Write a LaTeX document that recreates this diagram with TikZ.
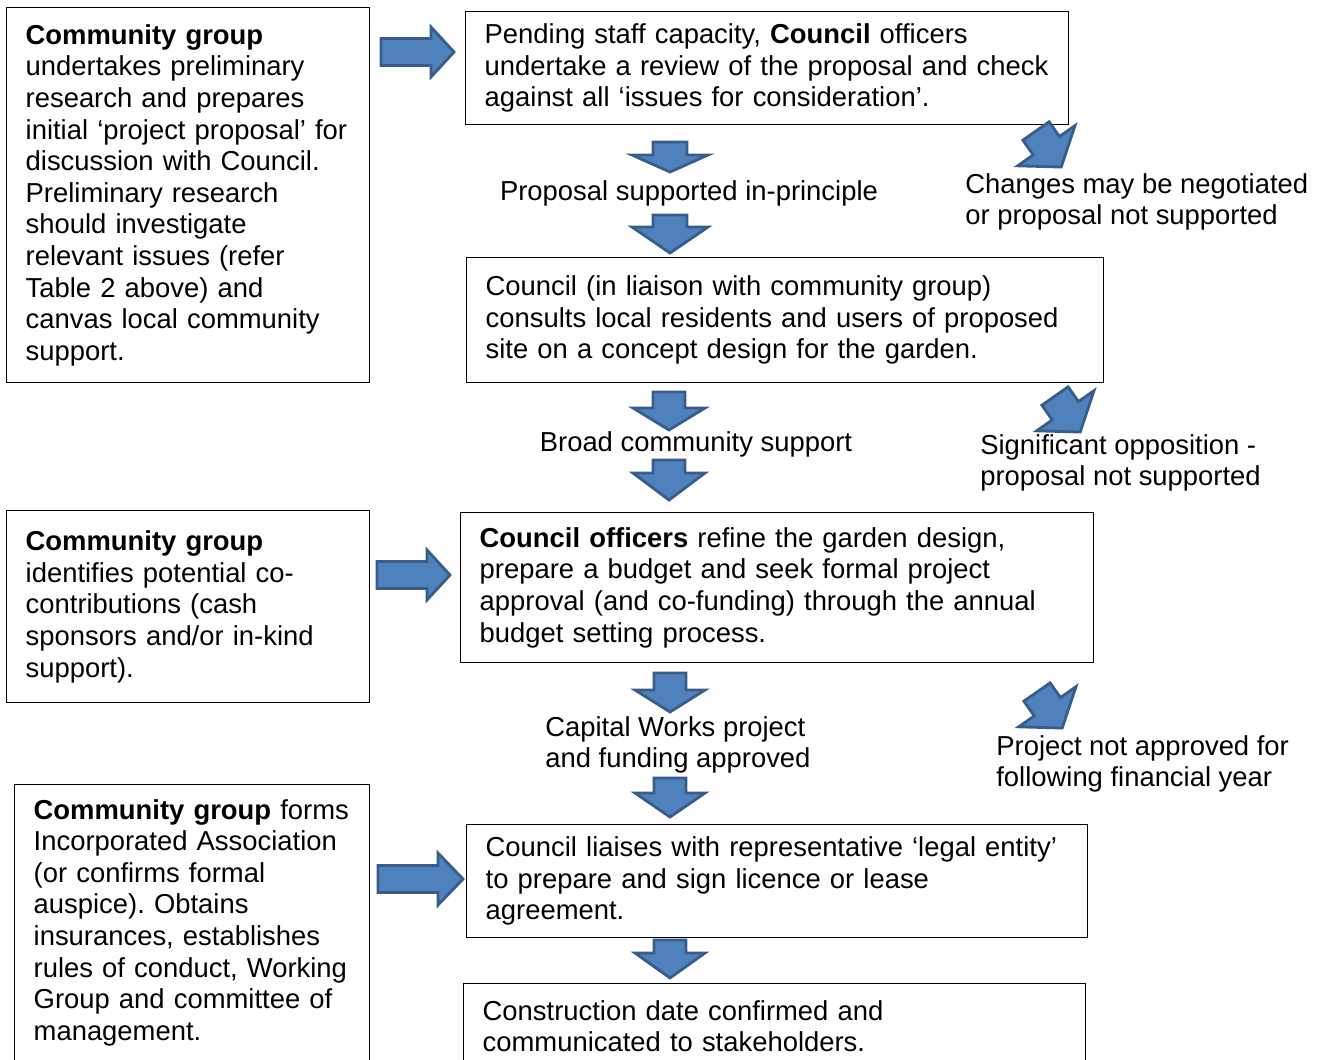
\documentclass[tikz,border=0pt]{standalone}
\usepackage{fontspec}
\setmainfont{Liberation Sans}
\frenchspacing
\definecolor{arrowblue}{HTML}{4F81BD}
\definecolor{arrowedge}{HTML}{385D8A}

\begin{document}
\begin{tikzpicture}[
    x=0.02cm, y=-0.02cm,
    font=\fontsize{15.6}{18}\selectfont,
    stepbox/.style={draw,line width=0.8pt,anchor=north west,align=left,inner xsep=0.38cm,inner ysep=0pt},
    outcome/.style={inner sep=0pt,align=left},
    blockfill/.style={fill=arrowblue,draw=arrowedge,line width=1.6pt,line join=miter},
    pics/blockarrow/.style n args={4}{code={
        \draw[blockfill] (0,-#4) -- ({#1-#2},-#4) -- ({#1-#2},-#3) -- (#1,0)
            -- ({#1-#2},#3) -- ({#1-#2},#4) -- (0,#4) -- cycle;
    }}
    ]

    \useasboundingbox (0,0) rectangle (1329,1059);
    \clip (0,0) rectangle (1329,1059);

    % community group boxes:
    \node (grp1) at (6,7) [stepbox,text width=6.5cm,minimum width=7.26cm,minimum height=7.5cm]
      {\textbf{Community group}\\undertakes preliminary\\research and prepares\\initial ‘project proposal’ for\\discussion with Council.\\Preliminary research\\should investigate\\relevant issues (refer\\Table 2 above) and\\canvas local community\\support.};
    \node (grp2) at (6,510) [stepbox,text width=6.5cm,minimum width=7.26cm,minimum height=3.84cm]
      {\textbf{Community group}\\identifies potential co-\\contributions (cash\\sponsors and/or in-kind\\support).};
    \node (grp3) at (14,784) [stepbox,text width=6.34cm,minimum width=7.1cm,minimum height=5.52cm]
      {\textbf{Community group} forms\\Incorporated Association\\(or confirms formal\\auspice). Obtains\\insurances, establishes\\rules of conduct, Working\\Group and committee of\\management.};

    % council boxes:
    \node (review) at (465,11) [stepbox,text width=11.3cm,minimum width=12.06cm,minimum height=2.26cm]
      {Pending staff capacity, \textbf{Council} officers\\undertake a review of the proposal and check\\against all ‘issues for consideration’.};
    \node (consult) at (466,257) [stepbox,text width=11.98cm,minimum width=12.74cm,minimum height=2.5cm]
      {Council (in liaison with community group)\\consults local residents and users of proposed\\site on a concept design for the garden.};
    \node (refine) at (460,512) [stepbox,text width=11.9cm,minimum width=12.66cm,minimum height=3cm]
      {\textbf{Council officers} refine the garden design,\\prepare a budget and seek formal project\\approval (and co-funding) through the annual\\budget setting process.};
    \node (licence) at (466,824) [stepbox,text width=11.66cm,minimum width=12.42cm,minimum height=2.26cm]
      {Council liaises with representative ‘legal entity’\\to prepare and sign licence or lease\\agreement.};
    \node (construct) at (463,983) [stepbox,text width=11.68cm,minimum width=12.44cm,minimum height=1.7cm]
      {Construction date confirmed and\\communicated to stakeholders.};

    % outcomes:
    \node (supported) at (689,193) [outcome] {Proposal supported in-principle};
    \node (changes) at (965,202) [outcome,anchor=west] {Changes may be negotiated\\or proposal not supported};
    \node (support) at (696,444) [outcome] {Broad community support};
    \node (opposition) at (980,463) [outcome,anchor=west] {Significant opposition -\\proposal not supported};
    \node (approved) at (545,745) [outcome,anchor=west] {Capital Works project\\and funding approved};
    \node (notapproved) at (996,764) [outcome,anchor=west] {Project not approved for\\following financial year};

    % arrows from community group:
    \pic at (381,52) {blockarrow={73}{23}{25}{13.5}};
    \pic at (377,575) {blockarrow={73}{23}{25}{13.5}};
    \pic at (378,879) {blockarrow={85}{25}{26}{13.5}};

    % arrows down the council steps:
    \pic[rotate=-90] at (670,142) {blockarrow={30}{17}{38}{17}};
    \pic[rotate=-90] at (670,215) {blockarrow={38}{26}{38}{17}};
    \pic[rotate=-90] at (669,392) {blockarrow={38}{22}{36}{16}};
    \pic[rotate=-90] at (669,460) {blockarrow={40}{27}{36}{16}};
    \pic[rotate=-90] at (670,673) {blockarrow={39}{22}{35}{16}};
    \pic[rotate=-90] at (670,778) {blockarrow={39}{24}{35}{16}};
    \pic[rotate=-90] at (670,940) {blockarrow={38}{25}{35}{16}};

    % arrows to the outcomes on the right:
    \pic[rotate=-55] at (1036,131) {blockarrow={44}{26}{35}{16}};
    \pic[rotate=-55] at (1055,396) {blockarrow={44}{26}{35}{16}};
    \pic[rotate=-55] at (1037,692) {blockarrow={44}{26}{35}{16}};

\end{tikzpicture}
\end{document}
